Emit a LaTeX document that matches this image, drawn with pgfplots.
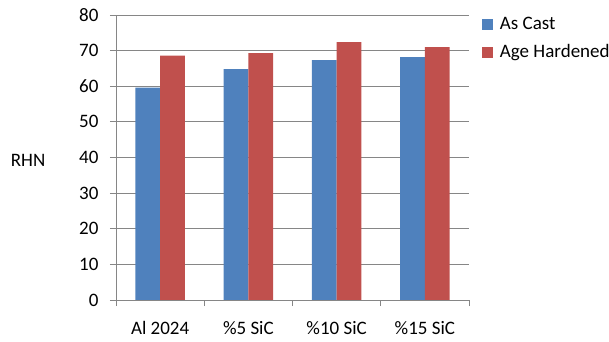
\documentclass[border=0pt]{standalone}
\usepackage{pgfplots}
\pgfplotsset{compat=1.18}
\usepackage{fontspec}
\setmainfont{Carlito}
\definecolor{cblue}{RGB}{79,129,189}
\definecolor{cred}{RGB}{192,80,77}
\definecolor{gridc}{RGB}{134,134,134}
\begin{document}
\fontsize{19bp}{23bp}\selectfont
\begin{tikzpicture}
\path[use as bounding box] (0,0) rectangle (609bp,342bp);
\begin{axis}[
  at={(116bp,42bp)}, anchor=south west,
  scale only axis, width=353bp, height=285bp,
  ybar, bar width=24.7bp,
  xmin=-0.5, xmax=3.5, ymin=0, ymax=80,
  ytick={0,10,...,80},
  xtick={0,1,2,3},
  xticklabels={Al 2024,\%5 SiC,\%10 SiC,\%15 SiC},
  minor xtick={-0.5,0.5,1.5,2.5,3.5},
  major x tick style={draw=none},
  tick align=outside, tick pos=left,
  major tick length=6bp, minor tick length=6bp,
  every tick/.style={gridc, line width=0.8pt},
  axis lines*=left,
  axis line style={gridc, line width=0.8pt},
  ymajorgrids, grid style={gridc, line width=0.8pt},
  /pgf/number format/assume math mode=true,
  tick label style={font=\fontsize{19bp}{23bp}\selectfont},
  yticklabel style={xshift=-5bp},
  xticklabel style={yshift=-9bp},
  ylabel={RHN},
  ylabel style={rotate=-90, at={(axis description cs:-0.249,0.49)}, anchor=center, font=\fontsize{19bp}{23bp}\selectfont},
  legend style={draw=none, at={(axis description cs:1.036,1.0)}, anchor=north west,
    font=\fontsize{19bp}{23bp}\selectfont, row sep=8bp, inner sep=0pt,
    /tikz/every odd column/.append style={column sep=5bp}},
  legend cell align=left,
  legend image code/.code={\fill[#1] (0bp,-5.5bp) rectangle (11bp,5.5bp);},
  enlarge x limits=false,
]
\addplot[fill=cblue, draw=none, bar shift=-12.35bp] coordinates {(0,59.6) (1,64.8) (2,67.3) (3,68.2)};
\addplot[fill=cred, draw=none, bar shift=12.35bp] coordinates {(0,68.6) (1,69.3) (2,72.4) (3,71.0)};
\legend{As Cast, Age Hardened}
\end{axis}
\end{tikzpicture}
\end{document}
